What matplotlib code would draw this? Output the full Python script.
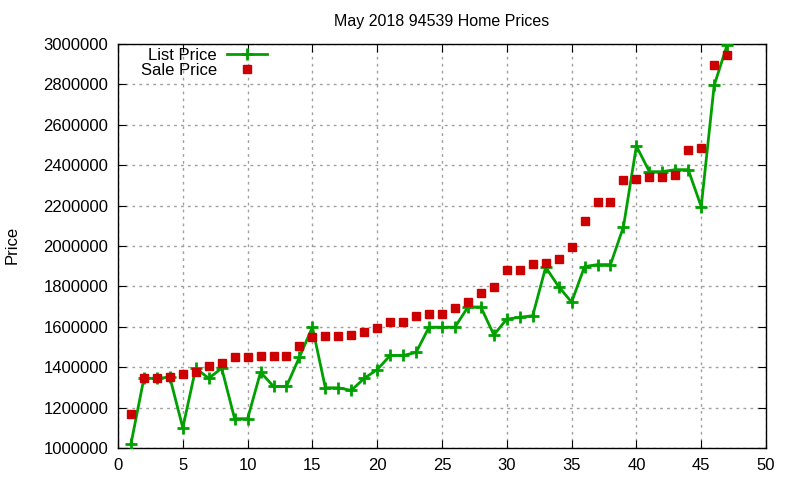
import numpy as np
import matplotlib
matplotlib.use("Agg")
import matplotlib.pyplot as plt

plt.rcParams['font.family'] = ['Liberation Sans', 'DejaVu Sans']

idx = list(range(1, 48))
list_price = [1020000, 1345000, 1345000, 1350000, 1100000, 1395000, 1345000, 1395000,
              1145000, 1145000, 1375000, 1305000, 1305000, 1450000, 1598000, 1298000,
              1298000, 1285000, 1345000, 1388000, 1458000, 1458000, 1473000, 1598000,
              1598000, 1598000, 1698000, 1698000, 1560000, 1638000, 1647000, 1655000,
              1895000, 1799000, 1722000, 1898000, 1908000, 1908000, 2095000, 2495000,
              2368000, 2368000, 2378000, 2378000, 2195000, 2795000, 2995000]
sale_price = [1166000, 1348000, 1348000, 1353000, 1368000, 1374000, 1406000, 1422000,
              1448000, 1448000, 1455000, 1455000, 1455000, 1506000, 1551000, 1556000,
              1556000, 1561000, 1574000, 1596000, 1625000, 1625000, 1655000, 1665000,
              1665000, 1695000, 1723000, 1767000, 1797000, 1883000, 1883000, 1912000,
              1914000, 1937000, 1997000, 2124000, 2218000, 2218000, 2327000, 2332000,
              2343000, 2343000, 2353000, 2477000, 2485000, 2898000, 2946000]

fig = plt.figure(figsize=(8, 4.8), dpi=100)
ax = fig.add_axes([0.1475, 0.0667, 0.81, 0.8416])

ax.plot(idx, list_price, color='#00a000', linewidth=2, marker='+', markersize=9,
        markeredgewidth=2, label='List Price', zorder=3)
ax.plot(idx, sale_price, linestyle='none', marker='s', markersize=5.8,
        color='#cc0000', label='Sale Price', zorder=4)

ax.set_xlim(0, 50)
ax.set_ylim(1000000, 3000000)
ax.set_xticks(range(0, 51, 5))
ax.set_yticks(range(1000000, 3000001, 200000))
ax.yaxis.set_major_formatter(matplotlib.ticker.FuncFormatter(lambda v, p: '%d' % v))
ax.tick_params(direction='in', top=True, right=True, labelsize=12, length=6, pad=7)
ax.grid(True, color='#a0a0a0', linestyle=(0, (2, 3)), linewidth=1)
for s in ax.spines.values():
    s.set_linewidth(1)

ax.set_title('May 2018 94539 Home Prices', fontsize=11.5, pad=13)
fig.text(0.006, 0.49, 'Price', rotation=90, fontsize=12, va='center')

leg = ax.legend(loc='upper left', bbox_to_anchor=(0.02, 1.015), frameon=False,
                markerfirst=False, fontsize=12, handlelength=2.4, labelspacing=0.0,
                borderaxespad=0.2, handletextpad=0.6)
for t in leg.get_texts():
    t.set_ha('right')

fig.savefig('out.png', dpi=100)
